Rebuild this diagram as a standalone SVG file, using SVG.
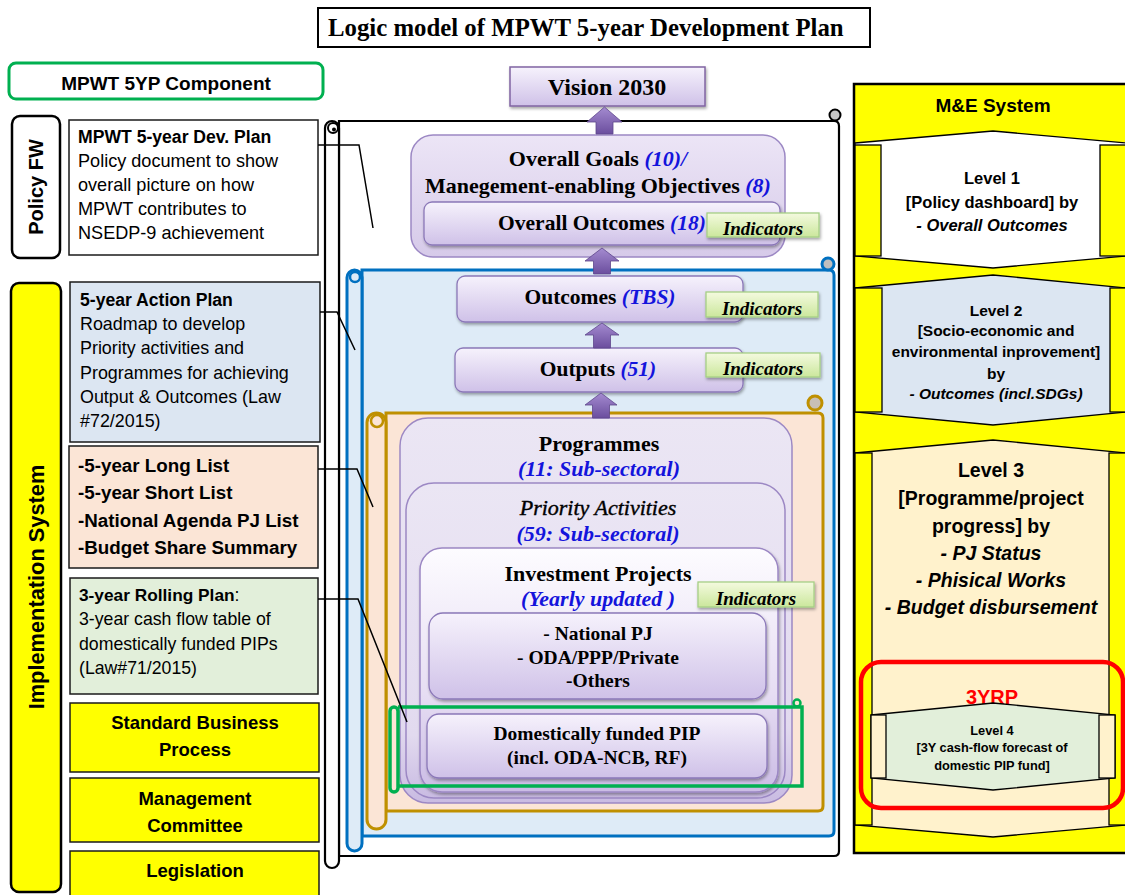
<svg xmlns="http://www.w3.org/2000/svg" width="1125" height="895" viewBox="0 0 1125 895">
<defs>
<linearGradient id="gPurple" x1="0" y1="0" x2="0" y2="1"><stop offset="0" stop-color="#f6f2fc"/><stop offset="1" stop-color="#cfc1e8"/></linearGradient>
<linearGradient id="gBig" x1="0" y1="0" x2="0" y2="1"><stop offset="0" stop-color="#ece5f6"/><stop offset="1" stop-color="#d6cae9"/></linearGradient>
<linearGradient id="gProg" x1="0" y1="0" x2="0" y2="1"><stop offset="0" stop-color="#ebe6f4"/><stop offset="0.8" stop-color="#e2daef"/><stop offset="1" stop-color="#c9bbe2"/></linearGradient>
<linearGradient id="gInv" x1="0" y1="0" x2="0" y2="1"><stop offset="0" stop-color="#fdfcff"/><stop offset="0.6" stop-color="#e6ddf3"/><stop offset="1" stop-color="#cbbce5"/></linearGradient>
<linearGradient id="gArrow" x1="0" y1="0" x2="0" y2="1"><stop offset="0" stop-color="#a48bd0"/><stop offset="1" stop-color="#6b4e9e"/></linearGradient>
<linearGradient id="gInd" x1="0" y1="0" x2="0" y2="1"><stop offset="0" stop-color="#f4fadf"/><stop offset="1" stop-color="#cbe79c"/></linearGradient>
<filter id="sh" x="-10%" y="-20%" width="120%" height="150%"><feDropShadow dx="1" dy="2" stdDeviation="1.5" flood-color="#000" flood-opacity="0.35"/></filter>
<style>
.sans{font-family:"Liberation Sans",Arial,sans-serif;}
.serif{font-family:"Liberation Serif","Times New Roman",serif;}
.b{font-weight:bold;}
.i{font-style:italic;}
.blue{fill:#1414dc;}
.box{stroke:#1a1a1a;stroke-width:1.5;}
.pbox{stroke:#8b78b8;stroke-width:1.3;}
.arrow{fill:url(#gArrow);stroke:#5e468c;stroke-width:0.8;}
.ind{fill:url(#gInd);stroke:#a6cf86;stroke-width:1.3;}
.conn{fill:none;stroke:#000;stroke-width:1.5;}
.lvl{stroke:#000;stroke-width:1.3;}
</style>
</defs>
<rect width="1125" height="895" fill="#fff"/>

<g id="title">
<rect x="318" y="8" width="552" height="39" fill="#fff" stroke="#000" stroke-width="2"/>
<text x="328" y="36" class="serif b" font-size="24.8">Logic model of MPWT 5-year Development Plan</text>
</g>

<g id="component">
<rect x="9" y="63" width="314" height="36" rx="7" fill="#fff" stroke="#00b050" stroke-width="3"/>
<text x="166" y="89.5" class="sans b" font-size="19" text-anchor="middle">MPWT 5YP Component</text>
</g>

<g id="policy-fw">
<rect x="12" y="116" width="48" height="142" rx="8" fill="#fff" stroke="#000" stroke-width="2.5"/>
<text transform="translate(36,187) rotate(-90)" y="7" class="sans b" font-size="20" text-anchor="middle">Policy FW</text>
</g>

<g id="impl-system">
<rect x="11" y="283" width="50" height="609" rx="8" fill="#ffff00" stroke="#000" stroke-width="2.5"/>
<text transform="translate(36,587) rotate(-90)" y="7.5" class="sans b" font-size="21.8" text-anchor="middle">Implementation System</text>
</g>

<g id="dev-plan">
<rect x="69" y="120" width="249" height="135" fill="#fff" class="box"/>
<text class="sans" font-size="18.1"><tspan x="78" y="143" class="b" font-size="17.6">MPWT 5-year Dev. Plan</tspan><tspan x="78" y="167">Policy document to show</tspan><tspan x="78" y="191">overall picture on how</tspan><tspan x="78" y="215">MPWT contributes to</tspan><tspan x="78" y="239">NSEDP-9 achievement</tspan></text>
</g>

<g id="action-plan">
<rect x="70" y="282" width="250" height="160" fill="#dce6f2" class="box"/>
<text class="sans" font-size="17.9"><tspan x="80" y="306" class="b" font-size="17.6">5-year Action Plan</tspan><tspan x="80" y="330">Roadmap to develop</tspan><tspan x="80" y="354">Priority activities and</tspan><tspan x="80" y="379">Programmes for achieving</tspan><tspan x="80" y="403">Output &amp; Outcomes (Law</tspan><tspan x="80" y="427">#72/2015)</tspan></text>
</g>

<g id="lists">
<rect x="69" y="446" width="249" height="122" fill="#fbe5d6" class="box"/>
<text class="sans b" font-size="18.8"><tspan x="78" y="471.5">-5-year Long List</tspan><tspan x="78" y="498.5">-5-year Short List</tspan><tspan x="78" y="526.5">-National Agenda PJ List</tspan><tspan x="78" y="553.5">-Budget Share Summary</tspan></text>
</g>

<g id="rolling-plan">
<rect x="70" y="578" width="248" height="116" fill="#e2efda" class="box"/>
<text class="sans" font-size="17.7"><tspan x="79" y="601"><tspan class="b" font-size="17.3">3-year Rolling Plan</tspan>:</tspan><tspan x="79" y="625">3-year cash flow table of</tspan><tspan x="79" y="650">domestically funded PIPs</tspan><tspan x="79" y="674">(Law#71/2015)</tspan></text>
</g>

<g id="sbp">
<rect x="70" y="703" width="249" height="69" fill="#ffff00" class="box"/>
<text class="sans b" font-size="18.5" text-anchor="middle"><tspan x="195" y="728.5">Standard Business</tspan><tspan x="195" y="755.5">Process</tspan></text>
</g>
<g id="mgmt">
<rect x="70" y="778" width="249" height="64" fill="#ffff00" class="box"/>
<text class="sans b" font-size="18.5" text-anchor="middle"><tspan x="195" y="804.5">Management</tspan><tspan x="195" y="831.5">Committee</tspan></text>
</g>
<g id="legislation">
<rect x="70" y="851" width="249" height="60" fill="#ffff00" class="box"/>
<text x="195" y="876.5" class="sans b" font-size="18.5" text-anchor="middle">Legislation</text>
</g>

<g id="scroll-black">
<path d="M339,121 L834,121 Q839,121 839,126 L839,851 Q839,856 834,856 L339,856 Z" fill="#fff" stroke="#000" stroke-width="2.2"/>
<rect x="325" y="121" width="14" height="747" rx="7" fill="#fff" stroke="#000" stroke-width="2.2"/>
<circle cx="333" cy="128" r="5" fill="#fff" stroke="#000" stroke-width="2"/>
<circle cx="334" cy="129.5" r="2" fill="#000"/>
<circle cx="835" cy="115" r="5.5" fill="#c8c8c8" stroke="#000" stroke-width="2"/>
</g>

<g id="scroll-blue">
<path d="M362,270 L829,270 Q834,270 834,275 L834,831 Q834,836 829,836 L362,836 Z" fill="#deebf7" stroke="#0070c0" stroke-width="3"/>
<rect x="347" y="270" width="15" height="581" rx="7.5" fill="#deebf7" stroke="#0070c0" stroke-width="3"/>
<circle cx="355" cy="277" r="5" fill="#deebf7" stroke="#0070c0" stroke-width="2.5"/>
<circle cx="828" cy="264" r="6" fill="#bfbfbf" stroke="#0070c0" stroke-width="3"/>
</g>

<g id="overall-goals">
<rect x="411" y="135" width="374" height="122" rx="22" fill="url(#gBig)" stroke="#9c88c4" stroke-width="1.5"/>
<text class="serif b" font-size="22" text-anchor="middle"><tspan x="598" y="165.5">Overall Goals <tspan class="i blue">(10)/</tspan></tspan><tspan x="598" y="192.5">Manegement-enabling Objectives <tspan class="i blue">(8)</tspan></tspan></text>
</g>

<g id="overall-outcomes">
<rect x="424" y="202" width="356" height="43" rx="8" fill="url(#gPurple)" class="pbox" filter="url(#sh)"/>
<text x="602" y="229.5" class="serif b" font-size="21.5" text-anchor="middle">Overall Outcomes <tspan class="i blue">(18)</tspan></text>
</g>

<g id="vision">
<rect x="510" y="67" width="195" height="39" fill="url(#gPurple)" stroke="#8064a2" stroke-width="1.5" filter="url(#sh)"/>
<text x="607" y="95" class="serif b" font-size="24" text-anchor="middle">Vision 2030</text>
</g>

<g id="outcomes">
<rect x="457" y="276" width="286" height="46" rx="8" fill="url(#gPurple)" class="pbox" filter="url(#sh)"/>
<text x="600" y="303.5" class="serif b" font-size="21.5" text-anchor="middle">Outcomes <tspan class="i blue">(TBS)</tspan></text>
</g>

<g id="outputs">
<rect x="455" y="348" width="288" height="44" rx="8" fill="url(#gPurple)" class="pbox" filter="url(#sh)"/>
<text x="598" y="375.5" class="serif b" font-size="21.5" text-anchor="middle">Outputs <tspan class="i blue">(51)</tspan></text>
</g>

<g id="scroll-orange">
<path d="M386,413 L818,413 Q823,413 823,418 L823,806 Q823,811 818,811 L386,811 Z" fill="#fbe5d6" stroke="#bf9000" stroke-width="3"/>
<rect x="367" y="413" width="19" height="416" rx="9.5" fill="#fbe5d6" stroke="#bf9000" stroke-width="3"/>
<circle cx="377" cy="421" r="6" fill="#fbe5d6" stroke="#bf9000" stroke-width="2.5"/>
<circle cx="815" cy="403" r="7" fill="#c8bfb5" stroke="#bf9000" stroke-width="3"/>
</g>

<g id="programmes">
<rect x="400" y="418" width="392" height="385" rx="28" fill="url(#gProg)" stroke="#9c88c4" stroke-width="1.5"/>
<text class="serif b" font-size="22" text-anchor="middle"><tspan x="599" y="450.5">Programmes</tspan><tspan x="599" y="475.5" class="i blue">(11: Sub-sectoral)</tspan></text>
</g>

<g id="priority-activities">
<rect x="406" y="483" width="379" height="315" rx="28" fill="url(#gProg)" stroke="#9c88c4" stroke-width="1.5"/>
<text class="serif" font-size="22" text-anchor="middle"><tspan x="598" y="514.5" class="i" stroke="#000" stroke-width="0.4">Priority Activities</tspan><tspan x="598" y="540.5" class="i b blue">(59: Sub-sectoral)</tspan></text>
</g>

<g id="investment-projects">
<rect x="420" y="548" width="358" height="244" rx="22" fill="url(#gInv)" stroke="#9c88c4" stroke-width="1.5" filter="url(#sh)"/>
<text class="serif b" font-size="22" text-anchor="middle"><tspan x="598" y="580.5">Investment Projects</tspan><tspan x="598" y="605.5" class="i blue">(Yearly updated )</tspan></text>
</g>

<g id="national-pj">
<rect x="429" y="613" width="337" height="86" rx="14" fill="url(#gPurple)" class="pbox" filter="url(#sh)"/>
<text class="serif b" font-size="19.5" text-anchor="middle"><tspan x="598" y="640">- National PJ</tspan><tspan x="598" y="664">- ODA/PPP/Private</tspan><tspan x="598" y="687">-Others</tspan></text>
</g>

<g id="domestic-pip">
<rect x="427" y="714" width="340" height="64" rx="12" fill="url(#gPurple)" class="pbox" filter="url(#sh)"/>
<text class="serif b" font-size="19.5" text-anchor="middle"><tspan x="597" y="740">Domestically funded PIP</tspan><tspan x="597" y="764">(incl. ODA-NCB, RF)</tspan></text>
</g>

<g id="scroll-green">
<path d="M398,707 L802,707 L802,786 L398,786" fill="none" stroke="#00b050" stroke-width="3.5"/>
<rect x="390" y="707" width="8" height="85" rx="4" fill="none" stroke="#00b050" stroke-width="3.5"/>
<circle cx="797" cy="703" r="3.5" fill="none" stroke="#00b050" stroke-width="2.5"/>
</g>

<g id="arrows">
<path class="arrow" d="M587,122 L604.5,107 L622,122 L613,122 L613,134 L596,134 L596,122 Z"/>
<path class="arrow" d="M585,261 L602,248 L619,261 L610.5,261 L610.5,274 L593.5,274 L593.5,261 Z"/>
<path class="arrow" d="M585,335 L602,323 L619,335 L610.5,335 L610.5,348 L593.5,348 L593.5,335 Z"/>
<path class="arrow" d="M585,405 L601,393 L617,405 L609.5,405 L609.5,418 L592.5,418 L592.5,405 Z"/>
</g>

<g id="indicators">
<rect x="707" y="213" width="112" height="24" class="ind" filter="url(#sh)"/>
<text x="763" y="234.5" class="serif b i" font-size="19" text-anchor="middle">Indicators</text>
<rect x="706" y="292" width="112" height="25" class="ind" filter="url(#sh)"/>
<text x="762" y="314.5" class="serif b i" font-size="19" text-anchor="middle">Indicators</text>
<rect x="706" y="353" width="114" height="24" class="ind" filter="url(#sh)"/>
<text x="763" y="374.5" class="serif b i" font-size="19" text-anchor="middle">Indicators</text>
<rect x="698" y="582" width="116" height="25" class="ind" filter="url(#sh)"/>
<text x="756" y="604.5" class="serif b i" font-size="19" text-anchor="middle">Indicators</text>
</g>

<g id="connectors">
<polyline class="conn" points="318,145 359,145 373,228"/>
<polyline class="conn" points="320,312 337,312 355,350"/>
<polyline class="conn" points="318,469 357,469 373,507"/>
<polyline class="conn" points="318,599 358,599 407,722"/>
</g>

<g id="me-system">
<rect x="854" y="84" width="285" height="769" fill="#ffff00" stroke="#000" stroke-width="2.5"/>
<text x="993" y="111.5" class="sans b" font-size="19" text-anchor="middle">M&amp;E System</text>
</g>

<g id="level1">
<polygon class="lvl" fill="#fff" points="855,143 993,131 1127,143 1127,256 993,268 855,256"/>
<rect class="lvl" x="855" y="145" width="26" height="111" fill="#ffff00"/>
<rect class="lvl" x="1100" y="145" width="30" height="111" fill="#ffff00"/>
<text class="sans b" font-size="16.5" text-anchor="middle"><tspan x="992" y="184">Level 1</tspan><tspan x="992" y="208">[Policy dashboard] by</tspan><tspan x="992" y="231" class="i">- Overall Outcomes</tspan></text>
</g>

<g id="level2">
<polygon class="lvl" fill="#dce6f2" points="855,288 993,275 1127,288 1127,412 993,425 855,412"/>
<rect class="lvl" x="855" y="288" width="27" height="124" fill="#ffff00"/>
<rect class="lvl" x="1110" y="288" width="20" height="124" fill="#ffff00"/>
<text class="sans b" font-size="15.5" text-anchor="middle"><tspan x="996" y="315.5">Level 2</tspan><tspan x="996" y="335.5">[Socio-economic and</tspan><tspan x="996" y="356.5">environmental inprovement]</tspan><tspan x="996" y="378.5">by</tspan><tspan x="996" y="398.5" class="i">- Outcomes (incl.SDGs)</tspan></text>
</g>

<g id="level3">
<polygon class="lvl" fill="#fff2cc" points="855,453 993,440 1127,453 1127,825 993,837 855,825"/>
<rect class="lvl" x="855" y="453" width="17" height="372" fill="#ffff00"/>
<rect class="lvl" x="1109" y="453" width="21" height="372" fill="#ffff00"/>
<text class="sans b" font-size="19.5" text-anchor="middle"><tspan x="991" y="477">Level 3</tspan><tspan x="991" y="505">[Programme/project</tspan><tspan x="991" y="533">progress] by</tspan><tspan x="991" y="560" class="i">- PJ Status</tspan><tspan x="991" y="587" class="i">- Phisical Works</tspan><tspan x="991" y="614" class="i">-  Budget disbursement</tspan></text>
</g>

<g id="level4">
<rect x="861" y="662" width="262" height="146" rx="20" fill="none" stroke="#ff0000" stroke-width="4.5"/>
<text x="992" y="704" class="sans b" font-size="20" fill="#ff0000" text-anchor="middle">3YRP</text>
<polygon class="lvl" fill="#e2efda" points="871,715 993,703 1115,715 1115,778 993,790 871,778"/>
<rect class="lvl" x="871" y="715" width="15" height="63" fill="#fff2cc"/>
<rect class="lvl" x="1099" y="715" width="16" height="63" fill="#fff2cc"/>
<text class="sans b" font-size="12.8" text-anchor="middle"><tspan x="992" y="734.5">Level 4</tspan><tspan x="992" y="751.5">[3Y cash-flow forecast of</tspan><tspan x="992" y="769.5">domestic PIP fund]</tspan></text>
</g>
</svg>
